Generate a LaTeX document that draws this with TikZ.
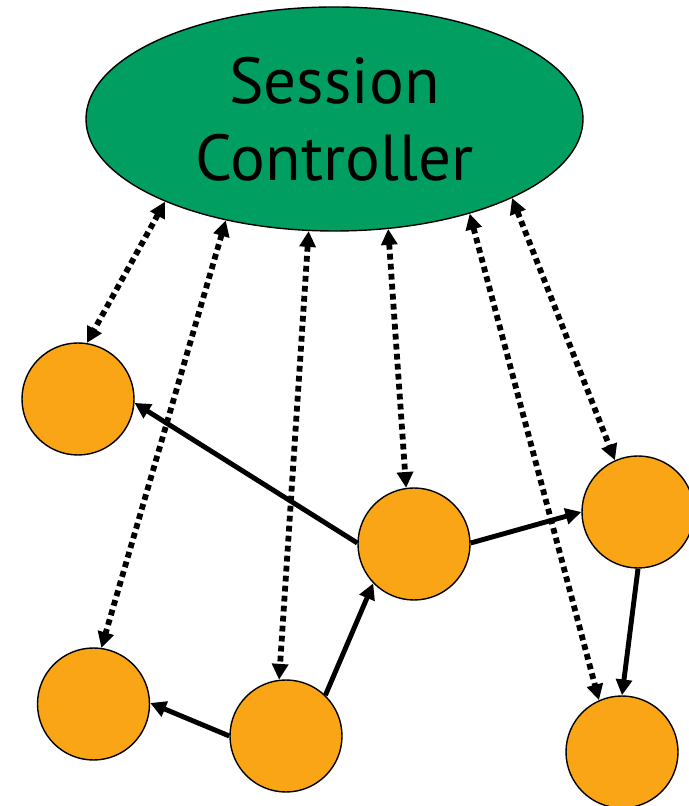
\documentclass[tikz,border=0pt]{standalone}
\usepackage{fontspec}
\setmainfont{PT Sans}
\usetikzlibrary{shapes.geometric,arrows.meta}

\definecolor{ctrlgreen}{RGB}{0,158,96}
\definecolor{peerorange}{RGB}{250,165,22}

\begin{document}
\begin{tikzpicture}[
    ctrl/.style={ellipse, draw=black, line width=0.8pt, fill=ctrlgreen,
                 minimum width=9.94cm, minimum height=4.48cm, inner sep=0pt,
                 align=center, font=\fontsize{37}{44}\selectfont},
    peer/.style={circle, draw=black, line width=0.8pt, fill=peerorange,
                 minimum size=2.24cm, inner sep=0pt},
    sig/.style={{Triangle[length=9pt,width=9pt]}-{Triangle[length=9pt,width=9pt]},
                line width=3.3pt, dash pattern=on 3.3pt off 2.4pt},
    flow/.style={-{Triangle[length=9pt,width=9pt]}, line width=2.8pt}
]

\useasboundingbox (0,0) rectangle (13.78,16.12);

%% controller
\node[ctrl] (ctrl) at (6.69,13.74) {Session\\Controller};

%% peers
\node[peer] (a) at (1.56,8.14)  {};   %% upper left
\node[peer] (b) at (8.28,5.24)  {};   %% middle
\node[peer] (c) at (12.76,5.88) {};   %% right
\node[peer] (d) at (1.87,2.04)  {};   %% lower left
\node[peer] (e) at (5.72,1.40)  {};   %% bottom
\node[peer] (f) at (12.44,1.08) {};   %% lower right

%% signalling
\draw[sig] (ctrl.206) -- (a.81);
\draw[sig] (ctrl.223) -- (d.82);
\draw[sig] (ctrl.257) -- (e.97);
\draw[sig] (ctrl.296) -- (b.98);
\draw[sig] (ctrl.325) -- (f.114);
\draw[sig] (ctrl.336) -- (c.114);

%% data flow
\draw[flow] (b.179) -- (a.356);   %% ba
\draw[flow] (b.1)   -- (c.180);   %% bc
\draw[flow] (c.270) -- (f.90);    %% cf
\draw[flow] (e.46)  -- (b.224);   %% eb
\draw[flow] (e.180) -- (d.1);     %% ed
\end{tikzpicture}
\end{document}
